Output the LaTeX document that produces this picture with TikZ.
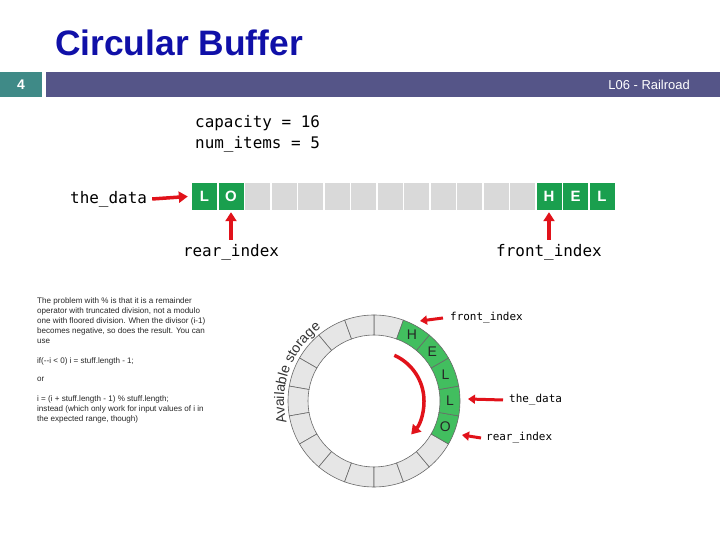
\documentclass[tikz,border=0pt]{standalone}
\usepackage{fontspec}
\setmainfont{Liberation Sans}
\newfontfamily\monofont{DejaVu Sans Mono}
\usetikzlibrary{arrows.meta,decorations.text}
\definecolor{titleblue}{RGB}{16,16,168}
\definecolor{barteal}{RGB}{63,138,135}
\definecolor{barpurple}{RGB}{85,85,136}
\definecolor{cellgreen}{RGB}{26,159,78}
\definecolor{cellgrey}{RGB}{217,217,217}
\definecolor{ringgreen}{RGB}{66,190,95}
\definecolor{ringgrey}{RGB}{230,230,230}
\definecolor{ringline}{RGB}{105,105,105}
\definecolor{arrowred}{RGB}{225,18,26}
\definecolor{parag}{RGB}{40,40,40}
\definecolor{textgrey}{RGB}{50,50,50}
\begin{document}
\begin{tikzpicture}[x=1bp,y=1bp,
  redarrow/.style={draw=arrowred, line width=3.5bp, -{Triangle[length=9bp,width=11bp]}},
  smallarrow/.style={draw=arrowred, line width=3bp, -{Triangle[length=7bp,width=9bp]}},
  bigmono/.style={font=\monofont\fontsize{16}{19}\selectfont, inner sep=0pt},
  smallmono/.style={font=\monofont\fontsize{11}{13}\selectfont, inner sep=0pt},
  para/.style={font=\fontsize{8.1}{9}\selectfont, text=parag, anchor=base west, inner sep=0pt},
  cell/.style={minimum width=25bp, minimum height=27bp, inner sep=0pt, font=\bfseries\fontsize{15}{15}\selectfont, text=white},
  ringletter/.style={font=\fontsize{14}{14}\selectfont, text=black!85, inner sep=0pt},
  sector/.style={draw=ringline, line width=0.6bp}
]
\useasboundingbox (0,0) rectangle (720,540);
\fill[white] (0,0) rectangle (720,540);

% title and header bar
\node[anchor=west, inner sep=0pt, font=\bfseries\fontsize{35.5}{40}\selectfont, text=titleblue] (title) at (55,497) {Circular Buffer};
\fill[barteal] (0,443) rectangle (42,468);
\fill[barpurple] (46,443) rectangle (720,468);
\node[font=\bfseries\fontsize{14}{14}\selectfont, text=white] (slidenum) at (21,455.5) {4};
\node[anchor=east, inner sep=0pt, font=\fontsize{13}{13}\selectfont, text=white] (lecture) at (690,455.5) {L06 - Railroad};

% capacity text
\node[bigmono, anchor=west] (cap) at (195,417) {capacity = 16};
\node[bigmono, anchor=west] (num) at (195,396) {num\_items = 5};

% array cells
\foreach \i in {2,...,12}
  \node[cell, fill=cellgrey] (c\i) at (204.5+26.5*\i, 343.5) {};
\node[cell, fill=cellgreen] (c0) at (204.5, 343.5) {L};
\node[cell, fill=cellgreen] (c1) at (231, 343.5) {O};
\node[cell, fill=cellgreen] (c13) at (549, 343.5) {H};
\node[cell, fill=cellgreen] (c14) at (575.5, 343.5) {E};
\node[cell, fill=cellgreen] (c15) at (602, 343.5) {L};

\node[bigmono, anchor=west] (td) at (70,341) {the\_data};
\draw[redarrow] ([xshift=5bp]td.east) -- ([xshift=-4bp]c0.west);
\node[bigmono] (ri) at (231,288) {rear\_index};
\draw[redarrow] ([yshift=4bp]ri.north) -- ([yshift=-2bp]c1.south);
\node[bigmono] (fi) at (549,288) {front\_index};
\draw[redarrow] ([yshift=4bp]fi.north) -- ([yshift=-2bp]c13.south);

% paragraph
\node[para] (p1) at (37,236) {The problem with \% is that it is a remainder};
\node[para] (p2) at (37,226) {operator with truncated division, not a modulo};
\node[para] (p3) at (37,216) {one with floored division. When the divisor (i-1)};
\node[para] (p4) at (37,206) {becomes negative, so does the result. You can};
\node[para] (p5) at (37,196) {use};
\node[para] (p6) at (37,176) {if(-{}-i < 0) i = stuff.length - 1;};
\node[para] (p7) at (37,158) {or};
\node[para] (p8) at (37,138) {i = (i + stuff.length - 1) \% stuff.length;};
\node[para] (p9) at (37,128) {instead (which only work for input values of i in};
\node[para] (p10) at (37,118) {the expected range, though)};

% ring
\begin{scope}[shift={(374,139)}]
  \foreach \a [evaluate=\a as \b using \a+20] in {70,90,...,310}
    \filldraw[sector, fill=ringgrey] (\a:66) arc[start angle=\a, end angle=\b, radius=66]
      -- (\b:86) arc[start angle=\b, end angle=\a, radius=86] -- cycle;
  \foreach \a [evaluate=\a as \b using \a+20] in {-30,-10,10,30,50}
    \filldraw[sector, fill=ringgreen] (\a:66) arc[start angle=\a, end angle=\b, radius=66]
      -- (\b:86) arc[start angle=\b, end angle=\a, radius=86] -- cycle;
  \node[ringletter] (rH) at (60:76) {H};
  \node[ringletter] (rE) at (40:76) {E};
  \node[ringletter] (rL1) at (20:76) {L};
  \node[ringletter] (rL2) at (0:76) {L};
  \node[ringletter] (rO) at (-20:76) {O};
  \coordinate (arcstart) at (66:50);
  \draw[redarrow] (arcstart) arc[start angle=66, end angle=-42, radius=50];
  \path[decorate, decoration={text along path, text align=center, text color=textgrey,
      text={|\fontsize{14}{14}\selectfont|Available storage}}]
    (197:90) arc[start angle=197, end angle=123, radius=90];
\end{scope}

% ring labels
\node[smallmono, anchor=west] (fi2) at (450,222) {front\_index};
\coordinate (fitip) at (420,219);
\draw[smallarrow] ([xshift=-7bp]fi2.west) -- (fitip);
\node[smallmono, anchor=west] (td2) at (509,140) {the\_data};
\coordinate (tdtip) at (468,141);
\draw[smallarrow] ([xshift=-6bp]td2.west) -- (tdtip);
\node[smallmono, anchor=west] (ri2) at (486,102) {rear\_index};
\coordinate (ritip) at (462,105);
\draw[smallarrow] ([xshift=-5bp]ri2.west) -- (ritip);
\end{tikzpicture}
\end{document}
